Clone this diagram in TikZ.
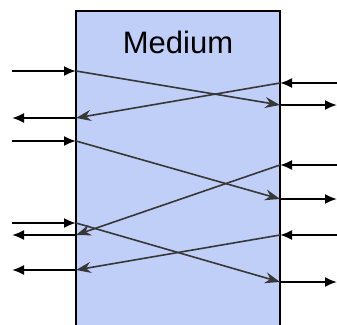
\documentclass[tikz,border=0pt]{standalone}
\usepackage{fontspec}
\setmainfont{Liberation Sans}
\usetikzlibrary{arrows.meta}
\definecolor{medium}{RGB}{191,207,247}
\definecolor{wire}{RGB}{55,55,55}

\begin{document}
\begin{tikzpicture}[x=1pt,y=-1pt,
  signal/.style={-{Latex[length=12pt,width=10pt]},line width=1.9pt},
  trace/.style={-{Stealth[length=15pt,width=11pt,inset=5pt]},wire,line width=1.6pt}]
\useasboundingbox (0,0) rectangle (337,324);
\filldraw[fill=medium,line width=1.9pt] (76,340) -- (76,11) -- (280,11) -- (280,340);
\node (M) at (178,42) {\fontsize{31}{31}\selectfont Medium};
% ports on the left edge
\coordinate (L1) at (76,71);
\coordinate (L2) at (76,118);
\coordinate (L3) at (76,141);
\coordinate (L4) at (76,223);
\coordinate (L5) at (76,235);
\coordinate (L6) at (76,270);
% ports on the right edge
\coordinate (R1) at (280,83);
\coordinate (R2) at (280,105);
\coordinate (R3) at (280,165);
\coordinate (R4) at (280,199);
\coordinate (R5) at (280,235);
\coordinate (R6) at (280,282);
% outer ends
\foreach \i in {1,...,6} {
  \coordinate (l\i) at ([xshift=-64pt]L\i);
  \coordinate (r\i) at ([xshift=57pt]R\i);
}
\path
(l1) edge [signal] (L1)
(L2) edge [signal] (l2)
(l3) edge [signal] (L3)
(l4) edge [signal] (L4)
(L5) edge [signal] (l5)
(L6) edge [signal] (l6)
(r1) edge [signal] (R1)
(R2) edge [signal] (r2)
(r3) edge [signal] (R3)
(R4) edge [signal] (r4)
(r5) edge [signal] (R5)
(R6) edge [signal] (r6);
% paths through the medium
\path
(L1) edge [trace] (R2)
(R1) edge [trace] (L2)
(L3) edge [trace] (R4)
(R3) edge [trace] (L5)
(L4) edge [trace] (R6)
(R5) edge [trace] (L6);
\end{tikzpicture}
\end{document}
